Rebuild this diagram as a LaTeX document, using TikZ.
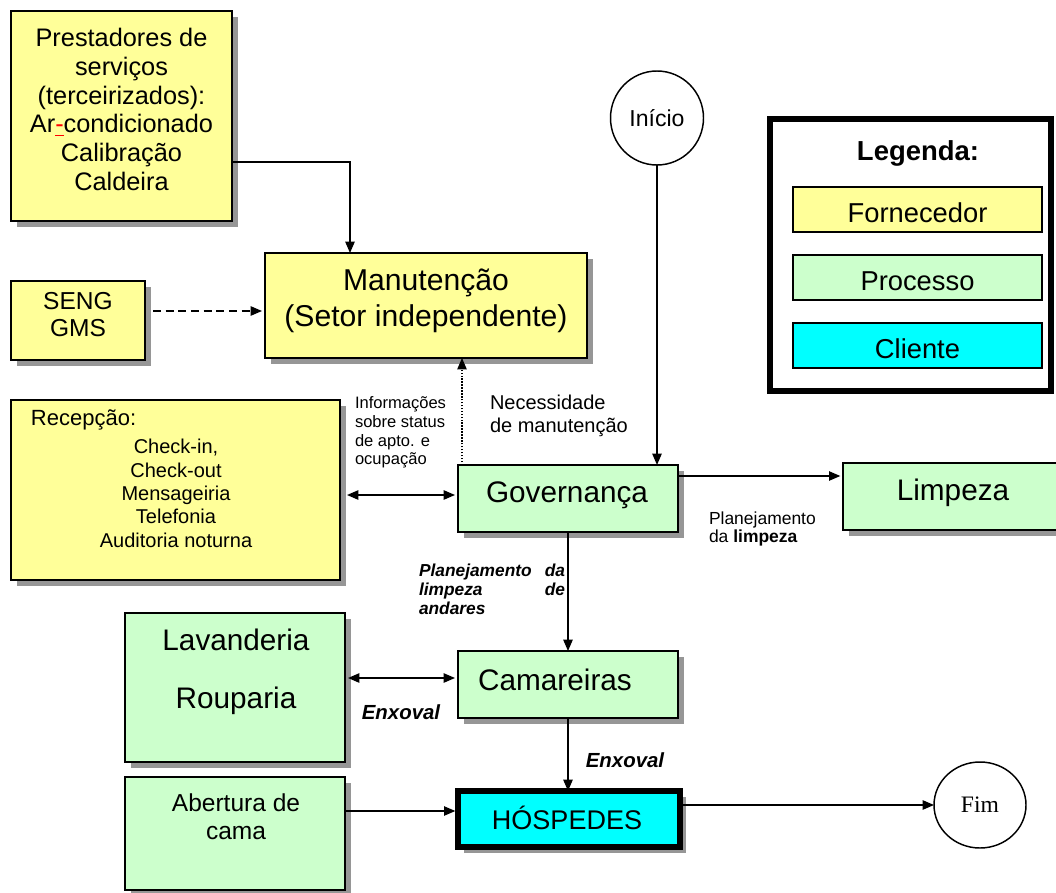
\documentclass[tikz,border=0pt]{standalone}
\usepackage{fontspec}
\setmainfont{Liberation Sans}
\newfontfamily\timesfont{Liberation Serif}
\usetikzlibrary{arrows.meta,shadows,calc,shapes.geometric}

\definecolor{fornec}{RGB}{255,255,153}
\definecolor{proc}{RGB}{204,255,204}
\definecolor{clie}{RGB}{0,255,255}
\definecolor{shade}{RGB}{150,150,150}

\newcommand\fs[2]{\fontsize{#1}{#2}\selectfont}
% spell-check style red mark under a character
\newcommand\redul[1]{\rlap{\textcolor{red}{\rule[-2.6pt]{0.33em}{1.1pt}}}\textcolor{red}{#1}}

\tikzset{
  every node/.style={inner sep=0pt, outer sep=0pt},
  sz/.style 2 args={minimum width=#1*0.75pt, minimum height=#2*0.75pt},
  card/.style={draw=black, line width=1.3pt,
    drop shadow={shadow xshift=4.5pt, shadow yshift=-4.5pt, fill=shade, opacity=1}},
  supplier/.style={card, fill=fornec},
  process/.style={card, fill=proc},
  legendbox/.style={draw=black, line width=1.2pt, sz={249}{45}, font=\fs{20.5}{24},
    text height=20pt, text depth=0pt},
  flow/.style={line width=1.1pt},
  arrowto/.style={-{Triangle[length=8.5pt,width=7pt]}},
  twotip/.style={{Triangle[length=8.5pt,width=7pt]}-{Triangle[length=8.5pt,width=7pt]}},
  terminal/.style={ellipse, draw, line width=1.1pt, fill=white},
  note/.style={font=\fs{12.4}{13.9}, align=left, anchor=west},
  enx/.style={font=\bfseries\itshape\fs{15.3}{18}},
  big/.style={font=\fs{22.3}{26}},
}

\begin{document}
\begin{tikzpicture}[x=0.75pt,y=-0.75pt]
\useasboundingbox (0,0) rectangle (1056,892);
\clip (0,0) rectangle (1056,892);

% suppliers
\node[supplier, sz={221}{210}] (prest) at (121.5,116) {};
\node[font=\fs{19}{21.5}, align=center] (prestxt) at (121.5,109.5)
  {Prestadores de\\serviços\\(terceirizados):\\Ar\redul{-}condicionado\\Calibração\\Caldeira};

\node[supplier, sz={322}{105}] (manut) at (426,305.5) {};
\node[font=\fs{22.6}{27}, align=center] (manuttxt) at (426,301)
  {Manutenção\\(Setor independente)};

\node[supplier, sz={134}{79}] (seng) at (78,320.5) {};
\node[font=\fs{18.4}{20.3}, align=center] (sengtxt) at (78,315) {SENG\\GMS};

\node[supplier, sz={329}{180}] (recep) at (175.5,490) {};
\node[font=\fs{16.5}{19}, anchor=west] (recephead) at (31,420) {Recepção:};
\node[font=\fs{15}{17.5}, align=center] (recepitems) at (176,493.5)
  {Check-in,\\Check-out\\Mensageiria\\Telefonia\\Auditoria noturna};

% processes
\node[process, sz={220}{67}] (gov) at (568,498.5) {};
\node[big] (govtxt) at (567,495) {Governança};

\node[process, sz={230}{67}] (limp) at (958,496.5) {};
\node[big] (limptxt) at (953,493) {Limpeza};

\node[process, sz={220}{67}] (cam) at (568,684.5) {};
\node[big] (camtxt) at (555,680) {Camareiras};

\node[process, sz={220}{149}] (lav) at (235,687.5) {};
\node[font=\fs{22.3}{43.5}, align=center] (lavtxt) at (236,672) {Lavanderia\\Rouparia};

\node[process, sz={220}{113}] (aber) at (235,833.5) {};
\node[font=\fs{18.4}{21}, align=center] (abertxt) at (236,817) {Abertura de\\cama};

% client
\node[card, fill=clie, line width=3.8pt, sz={222}{56}] (hosp) at (569,819) {};
\node[font=\fs{20.25}{24}] (hosptxt) at (567,817.5) {HÓSPEDES};

% start / end
\node[terminal, sz={93}{94}, font=\fs{17.3}{20}] (inicio) at (657,118) {Início};
\node[terminal, sz={92}{86}, font=\timesfont\fs{17.7}{20}] (fim) at (980,805) {Fim};

% legend
\node[draw, line width=4.5pt, sz={281}{272}] (legend) at (910.5,255) {};
\node[font=\bfseries\fs{20.6}{24}] (legtitle) at (918,153) {Legenda:};
\node[legendbox, fill=fornec] (legf) at (917.5,209.5) {Fornecedor};
\node[legendbox, fill=proc] (legp) at (917.5,277.5) {Processo};
\node[legendbox, fill=clie] (legc) at (917.5,345.5) {Cliente};

% connectors
\draw[flow, arrowto] ($(prest.east)+(0,46)$) -| ($(manut.north)+(-76,0)$);
\draw[flow, arrowto, dash pattern=on 6pt off 3.5pt] ($(seng.east)+(8,-9.5)$) -- ($(manut.west)+(-3,5.5)$);
\draw[line width=0.9pt, arrowto, dash pattern=on 1.1pt off 1.1pt]
  ($(gov.north west)+(4,0)$) coordinate (dotfrom) -- (dotfrom |- manut.south);
\draw[flow, arrowto] (inicio.south) -- (inicio.south |- gov.north);
\draw[flow, twotip] ($(recep.east)+(7,5)$) -- ($(gov.west)+(-3,-3.5)$);
\draw[flow, arrowto, shorten >=2pt] ($(gov.east)+(0,-22.5)$) coordinate (govout) -- (govout -| limp.west);
\draw[flow, arrowto] (gov.south) -- (gov.south |- cam.north);
\draw[flow, twotip] ($(lav.east)+(3,-9.5)$) -- ($(cam.west)+(-3,-6.5)$);
\draw[flow, arrowto] (cam.south) -- (cam.south |- hosp.north);
\draw[flow, arrowto, shorten >=2pt] ($(aber.east)+(0,-22.5)$) coordinate (aberout) -- (aberout -| hosp.west);
\draw[flow, arrowto] (hosp.east |- fim.west) -- (fim.west);

% connector labels
\node[note] (infolbl) at (355,432.5) {Informações\\sobre status\\de apto. e\\ocupação};
\node[font=\fs{15}{17.3}, align=left, anchor=west] (neclbl) at (490,415.5) {Necessidade\\de manutenção};
\node[font=\fs{13.1}{13.5}, align=left, anchor=west] (limplbl) at (709,529) {Planejamento\\da \textbf{limpeza}};
\node[font=\bfseries\itshape\fs{13}{14.25}, text width=109.5pt, align=left] (andlbl) at (492,589)
  {Planejamento\hfill da\\limpeza\hfill de\\andares};
\node[enx] (enx1) at (401,712) {Enxoval};
\node[enx] (enx2) at (625,760) {Enxoval};
\end{tikzpicture}
\end{document}
